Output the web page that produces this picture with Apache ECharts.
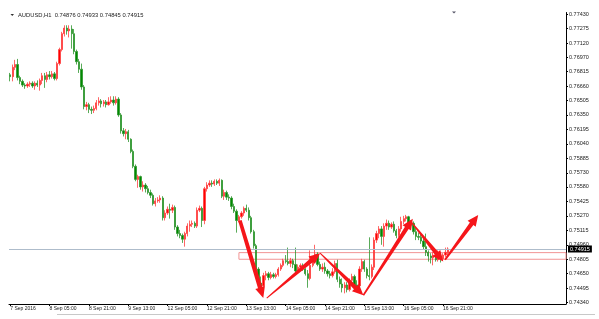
<!DOCTYPE html>
<html>
<head>
<meta charset="utf-8">
<script src="https://cdn.jsdelivr.net/npm/echarts/dist/echarts.min.js"></script>
<style>
html,body{margin:0;padding:0;background:#fff;}
#chart{width:599px;height:319px;}
</style>
</head>
<body>
<div id="chart"></div>
<script>
// ---- data ----
const symbolName = 'AUDUSD,H1';
const xTickLabels = ['7 Sep 2016','8 Sep 05:00','8 Sep 21:00','9 Sep 13:00','12 Sep 05:00','12 Sep 21:00','13 Sep 13:00','14 Sep 05:00','14 Sep 21:00','15 Sep 13:00','16 Sep 05:00','16 Sep 21:00'];
const xTickBars = [0,16,32,48,64,80,96,112,128,144,160,176];
const yTickLabels = ['0.77430','0.77275','0.77120','0.76970','0.76815','0.76660','0.76505','0.76350','0.76195','0.76040','0.75885','0.75730','0.75580','0.75425','0.75270','0.75115','0.74960','0.74805','0.74650','0.74495','0.74340'];

const open = [
0.7678,0.7676,0.7686,0.7689,0.7675,0.7671,0.7667,0.7666,0.7668,0.7669,
0.7666,0.7669,0.7667,0.7672,0.7677,0.7673,0.7678,0.7676,0.7679,0.7674,
0.7690,0.7705,0.7722,0.7728,0.7725,0.7727,0.7722,0.7703,0.7692,0.7684,
0.7665,0.7644,0.7646,0.7641,0.7640,0.7642,0.7648,0.7650,0.7647,0.7649,
0.7646,0.7649,0.7651,0.7648,0.7652,0.7635,0.7618,0.7615,0.7617,0.7609,
0.7596,0.7580,0.7566,0.7569,0.7558,0.7560,0.7556,0.7552,0.7549,0.7540,
0.7543,0.7544,0.7546,0.7525,0.7530,0.7534,0.7533,0.7536,0.7515,0.7508,
0.7506,0.7502,0.7508,0.7516,0.7518,0.7519,0.7516,0.7533,0.7535,0.7522,
0.7556,0.7560,0.7562,0.7561,0.7564,0.7562,0.7565,0.7548,0.7552,0.7547,
0.7546,0.7537,0.7532,0.7522,0.7526,0.7530,0.7535,0.7533,0.7525,0.7510,
0.7495,0.7470,0.7455,0.7452,0.7463,0.7465,0.7461,0.7464,0.7462,0.7464,
0.7470,0.7474,0.7479,0.7478,0.7476,0.7479,0.7475,0.7468,0.7472,0.7474,
0.7470,0.7465,0.7460,0.7474,0.7482,0.7486,0.7475,0.7470,0.7472,0.7468,
0.7465,0.7463,0.7467,0.7476,0.7459,0.7454,0.7450,0.7453,0.7448,0.7458,
0.7462,0.7453,0.7452,0.7470,0.7478,0.7470,0.7463,0.7462,0.7472,0.7501,
0.7508,0.7513,0.7505,0.7516,0.7519,0.7515,0.7518,0.7511,0.7506,0.7513,
0.7521,0.7524,0.7526,0.7517,0.7519,0.7510,0.7505,0.7504,0.7500,0.7494,
0.7488,0.7484,0.7482,0.7485,0.7480,0.7484,0.7481,0.7485,0.74876];
const high = [
0.7680,0.7689,0.7694,0.7695,0.7677,0.7673,0.7669,0.7670,0.7671,0.7671,
0.7671,0.7672,0.7674,0.7680,0.7680,0.7681,0.7682,0.7682,0.7681,0.7692,
0.7707,0.7724,0.7731,0.7731,0.7731,0.7731,0.7727,0.7705,0.7695,0.7690,
0.7667,0.7649,0.7648,0.7644,0.7645,0.7651,0.7654,0.7652,0.7651,0.7651,
0.7654,0.7655,0.7655,0.7655,0.7654,0.7637,0.7621,0.7620,0.7619,0.7610,
0.7598,0.7582,0.7571,0.7570,0.7564,0.7562,0.7559,0.7555,0.7551,0.7546,
0.7547,0.7549,0.7548,0.7533,0.7537,0.7540,0.7539,0.7538,0.7517,0.7512,
0.7508,0.7510,0.7519,0.7522,0.7522,0.7521,0.7536,0.7538,0.7537,0.7558,
0.7563,0.7565,0.7565,0.7566,0.7566,0.7567,0.7566,0.7555,0.7554,0.7550,
0.7548,0.7540,0.7534,0.7528,0.7532,0.7537,0.7539,0.7536,0.7527,0.7512,
0.7497,0.7472,0.7462,0.7466,0.7468,0.7467,0.7467,0.7466,0.7466,0.7472,
0.7476,0.7481,0.7485,0.7493,0.7482,0.7481,0.7493,0.7475,0.7476,0.7476,
0.7471,0.7469,0.7490,0.7484,0.7496,0.7488,0.7478,0.7476,0.7477,0.7470,
0.7468,0.7471,0.7479,0.7480,0.7462,0.7460,0.7456,0.7456,0.7460,0.7465,
0.7464,0.7458,0.7473,0.7481,0.7480,0.7472,0.7504,0.7475,0.7504,0.7511,
0.7516,0.7516,0.7519,0.7523,0.7522,0.7520,0.7521,0.7513,0.7516,0.7526,
0.7527,0.7528,0.7527,0.7522,0.7521,0.7514,0.7509,0.7507,0.7503,0.7508,
0.7490,0.7487,0.7488,0.7487,0.7490,0.7486,0.7487,0.7493,0.74933];
const low = [
0.7671,0.7671,0.7683,0.7672,0.7668,0.7665,0.7663,0.7664,0.7665,0.7664,
0.7662,0.7665,0.7661,0.7668,0.7664,0.7670,0.7673,0.7674,0.7672,0.7672,
0.7688,0.7703,0.7719,0.7721,0.7718,0.7706,0.7700,0.7689,0.7680,0.7662,
0.7641,0.7640,0.7637,0.7636,0.7637,0.7640,0.7645,0.7643,0.7644,0.7643,
0.7645,0.7647,0.7645,0.7646,0.7633,0.7615,0.7612,0.7609,0.7606,0.7594,
0.7578,0.7564,0.7557,0.7555,0.7553,0.7552,0.7550,0.7546,0.7538,0.7537,
0.7541,0.7541,0.7522,0.7522,0.7528,0.7524,0.7530,0.7512,0.7505,0.7503,
0.7498,0.7494,0.7505,0.7510,0.7515,0.7514,0.7514,0.7531,0.7515,0.7518,
0.7553,0.7558,0.7558,0.7559,0.7560,0.7559,0.7546,0.7544,0.7544,0.7543,
0.7534,0.7530,0.7509,0.7520,0.7524,0.7527,0.7531,0.7522,0.7508,0.7492,
0.7467,0.7452,0.7448,0.7450,0.7458,0.7458,0.7459,0.7460,0.7460,0.7462,
0.7468,0.7472,0.7476,0.7474,0.7472,0.7471,0.7465,0.7465,0.7468,0.7468,
0.7463,0.7450,0.7458,0.7472,0.7480,0.7473,0.7468,0.7467,0.7465,0.7462,
0.7460,0.7461,0.7465,0.7456,0.7450,0.7445,0.7444,0.7445,0.7446,0.7455,
0.7450,0.7447,0.7450,0.7467,0.7467,0.7460,0.7458,0.7460,0.7469,0.7498,
0.7503,0.7496,0.7494,0.7512,0.7512,0.7513,0.7509,0.7503,0.7504,0.7510,
0.7518,0.7521,0.7514,0.7515,0.7507,0.7501,0.7501,0.7497,0.7491,0.7484,
0.7478,0.7476,0.7474,0.7478,0.7478,0.7477,0.7479,0.7483,0.74845];
const close = [
0.7676,0.7686,0.7689,0.7675,0.7671,0.7667,0.7666,0.7668,0.7669,0.7666,
0.7669,0.7667,0.7672,0.7677,0.7673,0.7678,0.7676,0.7679,0.7674,0.7690,
0.7705,0.7722,0.7728,0.7725,0.7727,0.7722,0.7703,0.7692,0.7684,0.7665,
0.7644,0.7646,0.7641,0.7640,0.7642,0.7648,0.7650,0.7647,0.7649,0.7646,
0.7649,0.7651,0.7648,0.7652,0.7635,0.7618,0.7615,0.7617,0.7609,0.7596,
0.7580,0.7566,0.7569,0.7558,0.7560,0.7556,0.7552,0.7549,0.7540,0.7543,
0.7544,0.7546,0.7525,0.7530,0.7534,0.7533,0.7536,0.7515,0.7508,0.7506,
0.7502,0.7508,0.7516,0.7518,0.7519,0.7516,0.7533,0.7535,0.7522,0.7556,
0.7560,0.7562,0.7561,0.7564,0.7562,0.7565,0.7548,0.7552,0.7547,0.7546,
0.7537,0.7532,0.7522,0.7526,0.7530,0.7535,0.7533,0.7525,0.7510,0.7495,
0.7470,0.7455,0.7452,0.7463,0.7465,0.7461,0.7464,0.7462,0.7464,0.7470,
0.7474,0.7479,0.7478,0.7476,0.7479,0.7475,0.7468,0.7472,0.7474,0.7470,
0.7465,0.7460,0.7474,0.7482,0.7486,0.7475,0.7470,0.7472,0.7468,0.7465,
0.7463,0.7467,0.7476,0.7459,0.7454,0.7450,0.7453,0.7448,0.7458,0.7462,
0.7453,0.7452,0.7470,0.7478,0.7470,0.7463,0.7462,0.7472,0.7501,0.7508,
0.7513,0.7505,0.7516,0.7519,0.7515,0.7518,0.7511,0.7506,0.7513,0.7521,
0.7524,0.7526,0.7517,0.7519,0.7510,0.7505,0.7504,0.7500,0.7494,0.7488,
0.7484,0.7482,0.7485,0.7480,0.7484,0.7481,0.7485,0.7488,0.74915];

// support zone (price band) and its starting bar
const zoneTop = 0.74876;
const zoneBottom = 0.74805;
const zoneStartBar = 93;

// hand-drawn arrows: [bar, price] from / to, and start thickness
const arrowFrom = [[93.4,0.7522],[104.3,0.7439],[126.0,0.7487],[143.6,0.7442],[162.6,0.7522],[176.8,0.7480]];
const arrowTo   = [[102.9,0.7439],[126.0,0.7487],[143.6,0.7442],[163.7,0.7524],[176.1,0.7478],[190.3,0.7528]];
const arrowStartW = [1.8,0.5,0.5,0.8,0.5,1.0];

// ---- chart ----
const fmt = v => v.toFixed(5);
const candleData = open.map((o, i) => [i, o, close[i], low[i], high[i]]);
const arrowData = arrowFrom.map((p, k) => [p[0], p[1], arrowTo[k][0], arrowTo[k][1], arrowStartW[k]]);
const yTickValues = yTickLabels.map(Number);
const last = close.length - 1;

const FONT = 'Liberation Sans, Arial, sans-serif';
const chart = echarts.init(document.getElementById('chart'), null, {renderer: 'canvas'});
chart.setOption({
  animation: false,
  backgroundColor: '#ffffff',
  title: {
    text: symbolName + '  ' + fmt(open[last]) + ' ' + fmt(high[last]) + ' ' + fmt(low[last]) + ' ' + fmt(close[last]),
    left: 18, top: 12, padding: 0,
    textStyle: {fontSize: 5.8, fontWeight: 'normal', color: '#222', fontFamily: FONT}
  },
  grid: {left: 9, right: 33, top: 12.5, bottom: 15, containLabel: false},
  xAxis: {
    type: 'value', min: -0.5, max: 226,
    axisLine: {show: true, onZero: false, lineStyle: {color: '#000', width: 1}},
    axisTick: {show: true, customValues: xTickBars, length: 2, lineStyle: {color: '#000'}},
    axisLabel: {
      show: true, customValues: xTickBars, align: 'left', margin: 2.5,
      fontSize: 5, color: '#222', fontFamily: FONT,
      formatter: v => xTickLabels[xTickBars.indexOf(Math.round(v))] || ''
    },
    splitLine: {show: false}
  },
  yAxis: {
    type: 'value', position: 'right', min: 0.74326, max: 0.77447, scale: true,
    axisLine: {show: true, onZero: false, lineStyle: {color: '#000', width: 1}},
    axisTick: {show: true, customValues: yTickValues, length: 2, lineStyle: {color: '#000'}},
    axisLabel: {
      show: true, customValues: yTickValues, margin: 3,
      fontSize: 5.5, color: '#222', fontFamily: FONT,
      formatter: v => fmt(v)
    },
    splitLine: {show: false}
  },
  series: [
    {
      type: 'candlestick',
      data: candleData,
      encode: {x: 0, y: [1, 2, 3, 4]},
      barWidth: 1.8,
      itemStyle: {
        color: '#ff0000', color0: '#008a00',
        borderColor: '#ff4040', borderColor0: '#2f962f', borderWidth: 0.8
      },
      markLine: {
        silent: true, symbol: ['none', 'none'], precision: 5,
        lineStyle: {color: '#aebccb', width: 1, type: 'solid'},
        label: {
          show: true, position: 'end', distance: 2,
          formatter: () => fmt(close[last]),
          backgroundColor: '#000', color: '#fff', fontSize: 5.5, fontFamily: FONT,
          padding: [1, 2, 0, 2]
        },
        data: [{yAxis: close[last]}]
      },
      markArea: {
        silent: true,
        itemStyle: {color: 'rgba(255,255,255,0)', borderColor: '#f29494', borderWidth: 1},
        data: [[{coord: [zoneStartBar, zoneTop]}, {coord: [226, zoneBottom]}]]
      }
    },
    {
      type: 'custom',
      data: arrowData,
      encode: {x: [0, 2], y: [1, 3]},
      clip: false,
      z: 10,
      renderItem: function (params, api) {
        const a = api.coord([api.value(0), api.value(1)]);
        const b = api.coord([api.value(2), api.value(3)]);
        const w0 = api.value(4);
        const dx = b[0] - a[0], dy = b[1] - a[1];
        const L = Math.sqrt(dx * dx + dy * dy);
        const ux = dx / L, uy = dy / L, nx = -uy, ny = ux;
        const H = 11, W = 5, w1 = 2.2;
        const bx = b[0] - ux * H, by = b[1] - uy * H;
        const pts = [
          [a[0] + nx * w0, a[1] + ny * w0],
          [bx + nx * w1, by + ny * w1],
          [bx + nx * W, by + ny * W],
          [b[0], b[1]],
          [bx - nx * W, by - ny * W],
          [bx - nx * w1, by - ny * w1],
          [a[0] - nx * w0, a[1] - ny * w0]
        ];
        return {type: 'polygon', shape: {points: pts}, style: {fill: '#f5161a', stroke: null}};
      }
    }
  ],
  graphic: [
    {type: 'polygon', shape: {points: [[10.5, 14], [14, 14], [12.25, 16]]}, style: {fill: '#333'}},
    {type: 'polygon', shape: {points: [[452, 11.5], [456, 11.5], [454, 13.5]]}, style: {fill: '#556'}},
    {type: 'line', shape: {x1: 57, y1: 314.5, x2: 595, y2: 314.5}, style: {stroke: '#c8c8c8', lineWidth: 1}}
  ]
});
</script>
</body>
</html>
